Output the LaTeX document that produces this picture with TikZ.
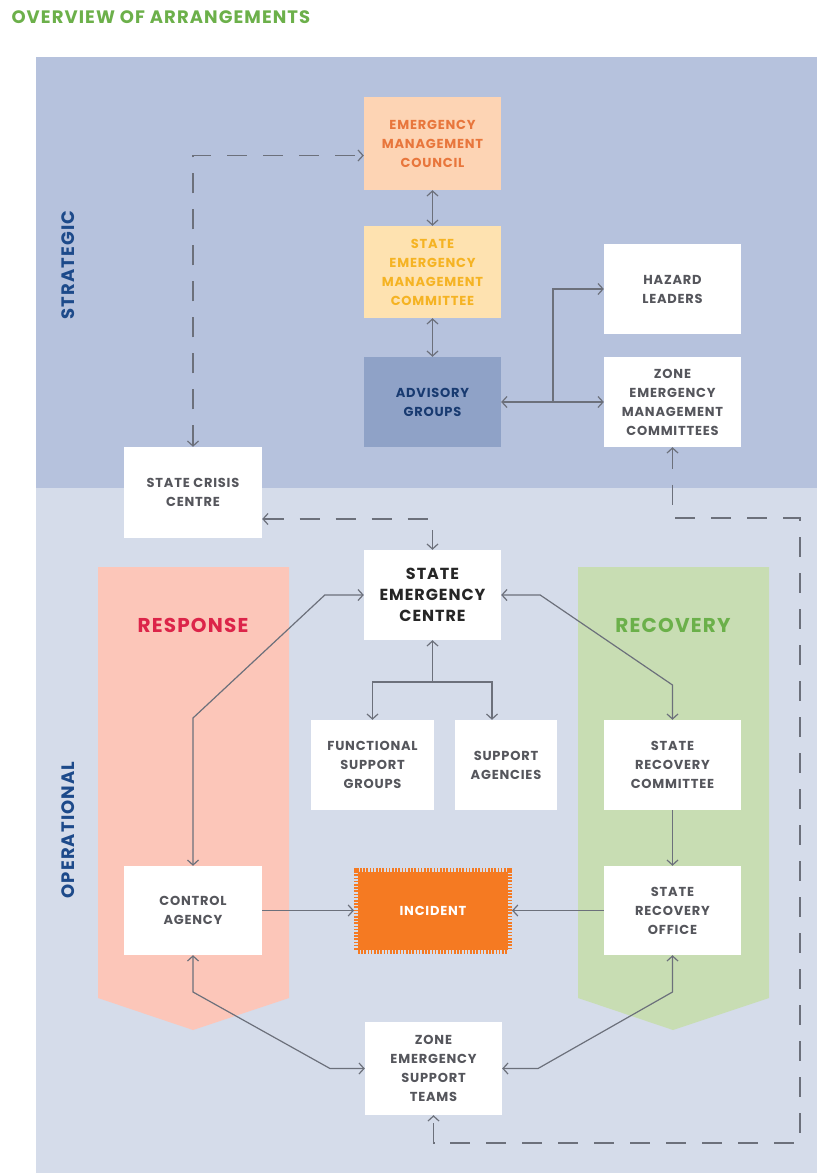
\documentclass[tikz,border=0pt]{standalone}
\usepackage{fontspec}
\setmainfont{Poppins}[LetterSpace=6]
\usetikzlibrary{arrows.meta}
\definecolor{stratbg}{HTML}{B6C2DD}
\definecolor{operbg}{HTML}{D5DCEA}
\definecolor{boxtext}{HTML}{55565C}
\definecolor{linkcol}{HTML}{6C707B}
\definecolor{labelblue}{HTML}{1D4A8A}
\definecolor{titlegreen}{HTML}{6CB04A}
\definecolor{councilfill}{HTML}{FDD4B4}
\definecolor{counciltext}{HTML}{E8763C}
\definecolor{committeefill}{HTML}{FEE2B0}
\definecolor{committeetext}{HTML}{F5B323}
\definecolor{advisoryfill}{HTML}{8FA2C7}
\definecolor{advisorytext}{HTML}{183A70}
\definecolor{responsefill}{HTML}{FCC6B9}
\definecolor{responsetext}{HTML}{DC2449}
\definecolor{recoveryfill}{HTML}{C8DDB3}
\definecolor{recoverytext}{HTML}{6BB04A}
\definecolor{incidentcol}{HTML}{F57A22}
\tikzstyle{box}=[rectangle,fill=white,minimum width=137pt,minimum height=90pt,inner sep=0pt,align=center,text=boxtext,font=\fontsize{13}{19}\selectfont\bfseries]
\tikzstyle{link}=[draw=linkcol,line width=1.2pt,>={Straight Barb[length=5pt,width=11pt]}]
\tikzstyle{dashlink}=[link,dash pattern=on 20pt off 16pt]
\tikzstyle{sidelabel}=[rotate=90,text=labelblue,font=\fontsize{18}{20}\selectfont\bfseries]
\tikzstyle{phase}=[font=\fontsize{20}{22}\selectfont\bfseries]

\begin{document}
\begin{tikzpicture}[x=1pt,y=-1pt]
\useasboundingbox (0,0) rectangle (817,1173);
\fill[white] (0,0) rectangle (817,1173);
\node[anchor=west,text=titlegreen,font=\fontsize{18}{20}\selectfont\bfseries] (title) at (8,17) {OVERVIEW OF ARRANGEMENTS};

% bands
\fill[stratbg] (36,57) rectangle (817,488);
\fill[operbg] (36,488) rectangle (817,1173);
\node[sidelabel] (strat) at (68,265) {STRATEGIC};
\node[sidelabel] (oper) at (68,830) {OPERATIONAL};

% response / recovery chevrons
\fill[responsefill] (98,567) -- (289,567) -- (289,998) -- (193,1030) -- (98,998) -- cycle;
\fill[recoveryfill] (578,567) -- (769,567) -- (769,998) -- (673,1030) -- (578,998) -- cycle;
\node[phase,text=responsetext] (resp) at (193,625) {RESPONSE};
\node[phase,text=recoverytext] (recov) at (673,625) {RECOVERY};

% strategic
\node[box,fill=councilfill,text=counciltext,minimum height=93pt] (emc) at (432.5,143.5) {EMERGENCY\\MANAGEMENT\\COUNCIL};
\node[box,fill=committeefill,text=committeetext,minimum height=92pt] (semc) at (432.5,272) {STATE\\EMERGENCY\\MANAGEMENT\\COMMITTEE};
\node[box,fill=advisoryfill,text=advisorytext] (adv) at (432.5,402) {ADVISORY\\GROUPS};
\node[box] (haz) at (672.5,289) {HAZARD\\LEADERS};
\node[box] (zemc) at (672.5,402) {ZONE\\EMERGENCY\\MANAGEMENT\\COMMITTEES};
\node[box,minimum width=138pt,minimum height=91pt] (scc) at (193,492.5) {STATE CRISIS\\CENTRE};

% operational
\node[box,text=black!85,font=\fontsize{16}{21}\selectfont\bfseries] (sec) at (432.5,595) {STATE\\EMERGENCY\\CENTRE};
\node[box,minimum width=123pt] (fsg) at (372.5,765) {FUNCTIONAL\\SUPPORT\\GROUPS};
\node[box,minimum width=102pt] (sa) at (506,765) {SUPPORT\\AGENCIES};
\node[box] (src) at (672.5,765) {STATE\\RECOVERY\\COMMITTEE};
\node[box,minimum width=138pt,minimum height=89pt] (ca) at (193,910.5) {CONTROL\\AGENCY};
\node[box,fill=incidentcol,draw=incidentcol,line width=8pt,dash pattern=on 1.6pt off 1.6pt,minimum width=150pt,minimum height=78pt,outer sep=4pt,text=white] (inc) at (433,910.5) {INCIDENT};
\node[box,minimum height=89pt] (sro) at (672.5,910.5) {STATE\\RECOVERY\\OFFICE};
\node[box,minimum height=93pt] (zest) at (433.5,1068.5) {ZONE\\EMERGENCY\\SUPPORT\\TEAMS};

% bend points
\coordinate (advsplit) at (553,402);
\coordinate (secsplit) at (432.5,682);
\coordinate (lbend) at (193,718);
\coordinate (rbend) at (672.5,685);
\coordinate (lbend2) at (193,992);
\coordinate (lbend3) at (330,1068.5);
\coordinate (rbend2) at (672.5,992);
\coordinate (rbend3) at (538,1068.5);
\coordinate (dtop) at (800,518);
\coordinate (dbot) at (800,1143);

% solid links
\draw[link,<->] (emc) -- (semc);
\draw[link,<->] (semc) -- (adv);
\draw[link,<->] (adv.east) -- (zemc.west);
\draw[link,->] (advsplit) |- (haz.west);
\draw[link,->] (secsplit) -- (sec.south);
\draw[link,->] (secsplit) -| (fsg.north);
\draw[link,->] (secsplit) -| ([xshift=-14pt]sa.north);
\draw[link,<->] (sec.west) -- ++(-39,0) -- (lbend) -- (ca.north);
\draw[link,<->] (sec.east) -- ++(39,0) -- (rbend) -- (src.north);
\draw[link,->] (src) -- (sro);
\draw[link,->] (ca.east) -- (inc.west);
\draw[link,->] (sro.west) -- (inc.east);
\draw[link,<->] (ca.south) -- (lbend2) -- (lbend3) -- (zest.west);
\draw[link,<->] (sro.south) -- (rbend2) -- (rbend3) -- (zest.east);

% dashed links
\draw[dashlink,<->] (scc.north) |- ([yshift=-12pt]emc.west);
\draw[dashlink,<->] ([yshift=-26.5pt]scc.east) -| (sec.north);
\draw[dashlink,<->] (zemc.south) |- (dtop) -- (dbot) -| (zest.south);

\end{tikzpicture}
\end{document}
